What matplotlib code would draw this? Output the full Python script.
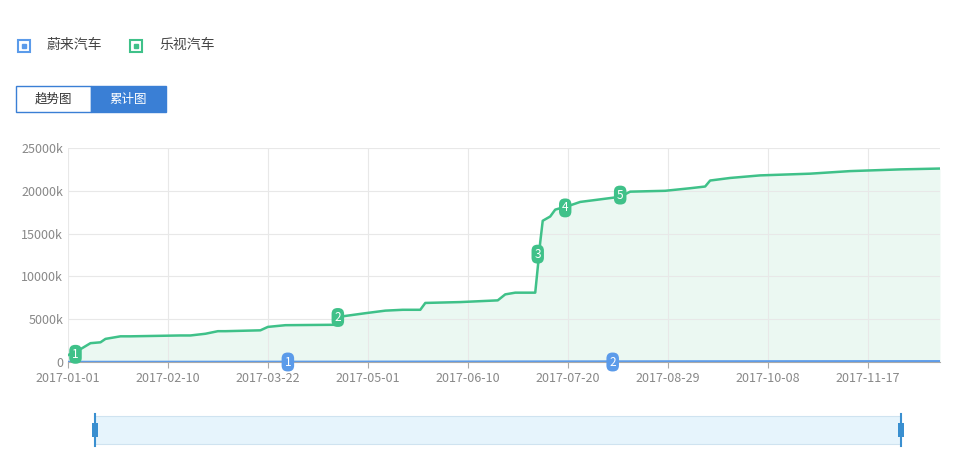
import matplotlib
matplotlib.use("Agg")
import matplotlib.pyplot as plt
import matplotlib.patches as mpatches
import pandas as pd

plt.rcParams['font.family'] = ['Noto Sans CJK SC', 'DejaVu Sans']

start = pd.Timestamp("2017-01-01")
# days after 2017-01-01 and cumulative value (k)
le_days = [0, 5, 9, 13, 15, 21, 25, 45, 49, 55, 60, 63, 77, 80, 87, 107, 109, 119, 127, 134,
           141, 143, 157, 172, 175, 179, 187, 188, 189, 190, 193, 195, 201, 205, 221, 225,
           239, 249, 255, 257, 265, 277, 297, 313, 333, 349]
le_vals = [800, 1500, 2200, 2300, 2700, 3000, 3000, 3100, 3100, 3300, 3600, 3600, 3700, 4100, 4300,
           4350, 5300, 5700, 6000, 6100, 6100, 6900, 7000, 7200, 7900, 8100, 8100, 11000, 14000, 16500,
           17000, 17800, 18300, 18700, 19300, 19900, 20000, 20300, 20500, 21200, 21500, 21800,
           22000, 22300, 22500, 22600]
nio_days = [0, 120, 240, 349]
nio_vals = [0, 20, 60, 80]

le_marks = [(3, 900, "1"), (108, 5200, "2"), (188, 12600, "3"), (199, 18000, "4"), (221, 19500, "5")]
nio_marks = [(88, 0, "1"), (218, 0, "2")]

tick_labels = ["2017-01-01", "2017-02-10", "2017-03-22", "2017-05-01", "2017-06-10",
               "2017-07-20", "2017-08-29", "2017-10-08", "2017-11-17"]

blue = "#5b9bea"
green = "#3fc189"

fig = plt.figure(figsize=(9.79, 4.59), dpi=100)
ax = fig.add_axes([68 / 979, 97 / 459, 872 / 979, 214 / 459])

le_x = [start + pd.Timedelta(days=d) for d in le_days]
nio_x = [start + pd.Timedelta(days=d) for d in nio_days]
ax.fill_between(le_x, le_vals, color=green, alpha=0.1, lw=0)
ax.plot(le_x, le_vals, color=green, lw=1.8)
ax.plot(nio_x, nio_vals, color=blue, lw=1.8)

for d, v, t in le_marks:
    ax.text(start + pd.Timedelta(days=d), v, t, color="white", fontsize=8.5, ha="center", va="center",
            bbox=dict(boxstyle="round,pad=0.25,rounding_size=0.5", fc=green, ec="none"))
for d, v, t in nio_marks:
    ax.text(start + pd.Timedelta(days=d), v, t, color="white", fontsize=8.5, ha="center", va="center",
            bbox=dict(boxstyle="round,pad=0.25,rounding_size=0.5", fc=blue, ec="none"))

ax.set_xlim(start, start + pd.Timedelta(days=349))
ax.set_ylim(0, 25000)
ax.set_yticks(range(0, 25001, 5000))
ax.set_yticklabels(["0"] + [f"{v}k" for v in range(5000, 25001, 5000)])
ax.set_xticks([pd.Timestamp(t) for t in tick_labels])
ax.set_xticklabels(tick_labels)
ax.tick_params(colors="#888888", labelsize=9, length=0)
ax.tick_params(axis="x", length=4, color="#aaaaaa")
ax.grid(color="#e8e8e8", lw=0.8)
for s in ["top", "right", "left"]:
    ax.spines[s].set_visible(False)
ax.spines["bottom"].set_color("#aaaaaa")

# legend
for x0, c, lab in [(18, blue, "蔚来汽车"), (130, green, "乐视汽车")]:
    fig.patches.append(mpatches.Rectangle((x0 / 979, 1 - 52 / 459), 12 / 979, 12 / 459,
                                          transform=fig.transFigure, fc="white", ec=c, lw=1.5))
    fig.patches.append(mpatches.Rectangle(((x0 + 4) / 979, 1 - 48 / 459), 4 / 979, 4 / 459,
                                          transform=fig.transFigure, fc=c, ec=c))
    fig.text((x0 + 29) / 979, 1 - 45 / 459, lab, fontsize=10, color="#444444", va="center")

# buttons
fig.patches.append(mpatches.Rectangle((16 / 979, 1 - 112 / 459), 75 / 979, 26 / 459,
                                      transform=fig.transFigure, fc="white", ec="#3a7fd5", lw=1))
fig.patches.append(mpatches.Rectangle((91 / 979, 1 - 112 / 459), 75 / 979, 26 / 459,
                                      transform=fig.transFigure, fc="#3a7fd5", ec="#3a7fd5", lw=1))
fig.text(53 / 979, 1 - 99 / 459, "趋势图", fontsize=9, color="#333333", ha="center", va="center")
fig.text(128 / 979, 1 - 99 / 459, "累计图", fontsize=9, color="white", ha="center", va="center")

# slider
fig.patches.append(mpatches.Rectangle((95 / 979, 1 - 444 / 459), 806 / 979, 28 / 459,
                                      transform=fig.transFigure, fc="#e6f4fc", ec="#cfe3f0", lw=0.8))
for hx in [95, 901]:
    fig.lines.append(plt.Line2D([hx / 979, hx / 979], [1 - 446 / 459, 1 - 414 / 459],
                                transform=fig.transFigure, color="#3a8fd0", lw=1.5))
    fig.patches.append(mpatches.Rectangle(((hx - 3) / 979, 1 - 437 / 459), 6 / 979, 14 / 459,
                                          transform=fig.transFigure, fc="#3a8fd0", ec="none"))

fig.savefig("out.png", dpi=100)
